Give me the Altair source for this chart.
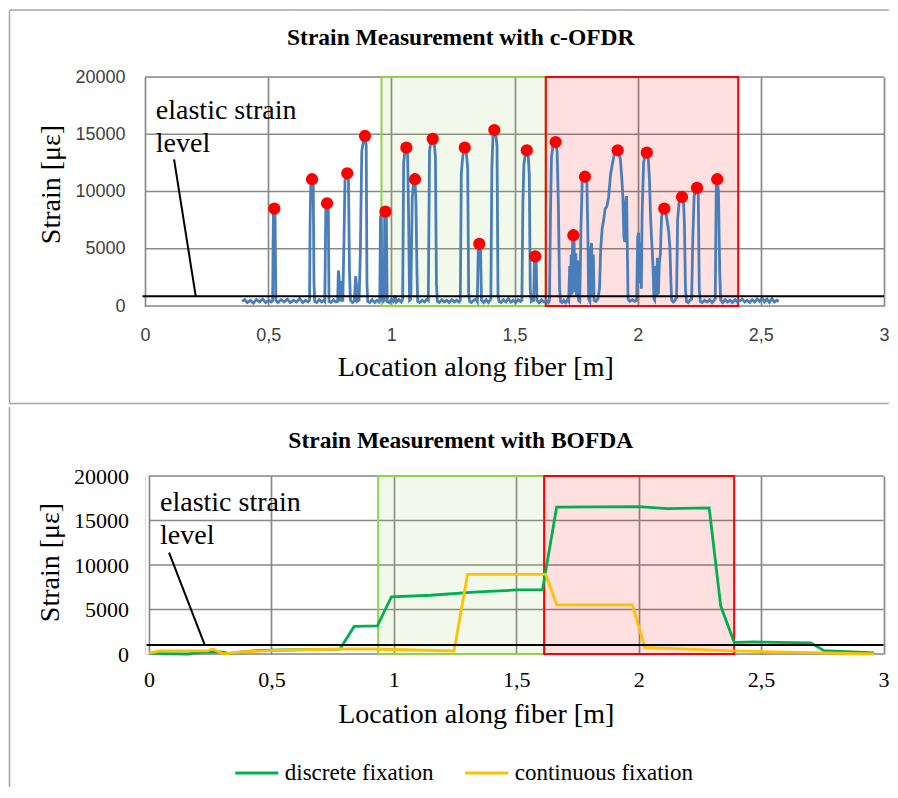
import altair as alt
import pandas as pd

# ---------------- data ----------------
x_ticks = [0, 0.5, 1, 1.5, 2, 2.5, 3]
y_ticks = [0, 5000, 10000, 15000, 20000]

ofdr_points = [
    (0.394, 400), (0.405, 550), (0.415, 300), (0.428, 500), (0.440, 250), (0.452, 550), (0.465, 350),
    (0.478, 600), (0.490, 300), (0.502, 500), (0.512, 350),
    (0.518, 450), (0.521, 8000), (0.525, 8500), (0.528, 8100), (0.531, 500),
    (0.540, 300), (0.552, 550), (0.565, 350), (0.578, 600), (0.590, 300), (0.603, 500), (0.615, 350),
    (0.628, 650), (0.640, 300), (0.652, 500), (0.662, 350),
    (0.668, 500), (0.670, 7000), (0.673, 10600), (0.678, 11070), (0.683, 10500), (0.686, 2000), (0.689, 400),
    (0.697, 300), (0.707, 550), (0.717, 350), (0.726, 500),
    (0.730, 400), (0.734, 8500), (0.739, 8970), (0.744, 8600), (0.747, 400),
    (0.755, 300), (0.765, 550), (0.775, 350),
    (0.782, 400), (0.785, 3100), (0.788, 2500), (0.791, 400), (0.795, 2200), (0.798, 500),
    (0.803, 500), (0.808, 6000), (0.812, 11000), (0.821, 11590), (0.826, 11000), (0.830, 3000), (0.834, 500),
    (0.842, 300), (0.850, 450), (0.855, 2600), (0.858, 2000), (0.861, 400),
    (0.869, 500), (0.874, 4500), (0.880, 13500), (0.887, 14500), (0.893, 14850), (0.898, 14000), (0.901, 2000), (0.904, 400),
    (0.912, 300), (0.922, 550), (0.932, 300), (0.942, 500), (0.950, 350),
    (0.953, 500), (0.956, 7800), (0.959, 7900), (0.962, 600), (0.967, 400), (0.971, 500), (0.973, 7800),
    (0.976, 8240), (0.980, 7500), (0.983, 400),
    (0.992, 300), (1.000, 550), (1.008, 400), (1.015, 900), (1.020, 350), (1.030, 550), (1.040, 350), (1.046, 600),
    (1.050, 12500), (1.055, 13500), (1.061, 13830), (1.066, 13300), (1.070, 8000), (1.074, 500), (1.079, 600),
    (1.085, 9500), (1.091, 11000), (1.096, 11070), (1.100, 9000), (1.104, 3000), (1.107, 400),
    (1.115, 300), (1.125, 500), (1.135, 350), (1.145, 600),
    (1.150, 500), (1.155, 13500), (1.161, 14400), (1.168, 14590), (1.174, 14300), (1.179, 13000), (1.183, 2000), (1.187, 400),
    (1.195, 300), (1.205, 550), (1.215, 350), (1.225, 500), (1.235, 300), (1.245, 550), (1.255, 350), (1.265, 500), (1.275, 350),
    (1.280, 500), (1.284, 11500), (1.288, 12600), (1.293, 13600), (1.298, 13830), (1.304, 13500), (1.310, 12000),
    (1.314, 1000), (1.318, 400),
    (1.325, 300), (1.335, 500), (1.344, 600),
    (1.349, 400), (1.353, 5000), (1.357, 5420), (1.362, 5000), (1.366, 500),
    (1.375, 300), (1.385, 550), (1.394, 300), (1.401, 500),
    (1.404, 600), (1.408, 12000), (1.413, 15000), (1.418, 15370), (1.424, 15000), (1.429, 14000), (1.433, 1000), (1.437, 400),
    (1.445, 300), (1.455, 550), (1.465, 350), (1.475, 650), (1.485, 350), (1.495, 500), (1.505, 300), (1.515, 550),
    (1.524, 400), (1.530, 500),
    (1.534, 9000), (1.538, 12300), (1.544, 13300), (1.550, 13600), (1.555, 13400), (1.560, 11500), (1.564, 1500), (1.568, 400),
    (1.574, 500), (1.578, 500), (1.581, 4000), (1.584, 4340), (1.588, 4000), (1.591, 500),
    (1.600, 300), (1.610, 550), (1.620, 350), (1.630, 500), (1.638, 300),
    (1.642, 500), (1.646, 8000), (1.650, 13000), (1.656, 14000), (1.662, 14320), (1.668, 14320), (1.673, 13500),
    (1.678, 9000), (1.683, 1500), (1.687, 400),
    (1.693, 300), (1.700, 500), (1.708, 300), (1.715, 550),
    (1.720, 400), (1.724, 3500), (1.727, 800), (1.730, 4500), (1.733, 1000), (1.736, 5800), (1.739, 6180),
    (1.742, 5500), (1.745, 1200), (1.749, 4600), (1.752, 800), (1.756, 4000), (1.760, 500),
    (1.765, 400), (1.770, 7000), (1.775, 11000), (1.781, 11290), (1.788, 11100), (1.794, 10700), (1.798, 6000), (1.801, 600),
    (1.806, 400), (1.810, 5000), (1.813, 5500), (1.816, 800), (1.820, 4500), (1.823, 500),
    (1.830, 400), (1.838, 600), (1.845, 1500), (1.850, 5000), (1.856, 6800), (1.862, 7500), (1.868, 8500),
    (1.875, 8700), (1.882, 9500), (1.890, 11500), (1.898, 12500), (1.906, 13300), (1.914, 13600), (1.922, 13600),
    (1.930, 12800), (1.936, 11000), (1.940, 9500), (1.944, 6000), (1.948, 5600), (1.951, 9000), (1.955, 9600),
    (1.958, 5000), (1.961, 600),
    (1.968, 400), (1.978, 550), (1.988, 400), (1.996, 500),
    (2.000, 6000), (2.004, 6400), (2.008, 2000), (2.012, 5500), (2.015, 1500),
    (2.018, 8000), (2.024, 12500), (2.030, 13200), (2.037, 13390), (2.043, 12900), (2.048, 11000), (2.052, 8000),
    (2.056, 6000), (2.060, 4500), (2.063, 3000), (2.066, 600),
    (2.069, 500), (2.073, 3500), (2.076, 800), (2.080, 4200), (2.084, 1000), (2.088, 3800), (2.092, 4500),
    (2.097, 7800), (2.102, 8300), (2.108, 8500), (2.114, 8200), (2.120, 7400), (2.126, 6500), (2.131, 5000),
    (2.135, 2000), (2.138, 500),
    (2.145, 350), (2.152, 500), (2.158, 800), (2.162, 7500), (2.168, 9000), (2.174, 9500), (2.180, 9520),
    (2.186, 9300), (2.190, 7000), (2.194, 1500), (2.198, 400),
    (2.205, 300), (2.212, 500), (2.219, 600), (2.224, 6000), (2.229, 9500), (2.235, 10200), (2.241, 10310),
    (2.246, 9800), (2.250, 1500), (2.254, 400),
    (2.262, 300), (2.272, 500), (2.282, 350), (2.292, 550), (2.302, 300), (2.310, 500), (2.315, 600),
    (2.319, 10500), (2.323, 11070), (2.328, 10000), (2.333, 3000), (2.337, 500),
    (2.345, 300), (2.355, 550), (2.365, 350), (2.375, 500), (2.385, 300), (2.395, 550), (2.405, 350), (2.415, 450),
    (2.425, 600), (2.435, 350), (2.445, 500), (2.455, 300), (2.465, 550), (2.475, 350), (2.485, 600), (2.495, 400),
    (2.505, 700), (2.515, 350), (2.525, 600), (2.535, 300), (2.545, 650), (2.555, 350), (2.565, 500), (2.573, 400),
]

peak_points = [
    (0.525, 8500), (0.678, 11070), (0.739, 8970), (0.821, 11590), (0.893, 14850), (0.976, 8240),
    (1.061, 13830), (1.096, 11070), (1.168, 14590), (1.298, 13830), (1.357, 5420), (1.418, 15370),
    (1.550, 13600), (1.584, 4340), (1.667, 14320), (1.739, 6180), (1.786, 11290), (1.919, 13600),
    (2.037, 13390), (2.108, 8500), (2.180, 9520), (2.241, 10310), (2.323, 11070),
]

discrete_points = [
    (0.0, 100), (0.05, 50), (0.16, 0), (0.20, 150), (0.25, 250), (0.30, 200), (0.33, 50), (0.37, 200),
    (0.45, 400), (0.55, 450), (0.65, 500), (0.78, 550), (0.838, 3100), (0.933, 3150), (0.990, 6420),
    (1.151, 6600), (1.328, 6950), (1.505, 7200), (1.607, 7200), (1.665, 16500), (2.002, 16560),
    (2.118, 16330), (2.288, 16420), (2.335, 5410), (2.390, 1310), (2.471, 1350), (2.703, 1250),
    (2.757, 380), (2.962, 110),
]

continuous_points = [
    (0.0, 110), (0.048, 340), (0.238, 340), (0.259, 560), (0.306, 0), (0.375, 230), (0.511, 400),
    (0.783, 560), (0.918, 560), (1.246, 340), (1.301, 8950), (1.620, 8950), (1.665, 5530), (1.975, 5530),
    (2.025, 750), (2.226, 520), (2.390, 340), (2.608, 220), (2.962, 0),
]

series_names = ["discrete fixation", "continuous fixation"]
series_colors = ["#00b050", "#ffc000"]

top_boxes = [(0.960, 1.627, "#92d050", "#92d050"), (1.627, 2.408, "#ff0000", "#ff0000")]
bottom_boxes = [(0.936, 1.614, "#92d050", "#92d050"), (1.614, 2.390, "#ff0000", "#ff0000")]

top_elastic = 850
bottom_elastic = 1000
top_pointer = (0.118, 12810, 0.206, 850)
bottom_pointer = (0.082, 11390, 0.228, 1000)
top_label = [(0.044, 16300, "elastic strain"), (0.044, 13480, "level")]
bottom_label = [(0.045, 16050, "elastic strain"), (0.045, 12310, "level")]

titles = ["Strain Measurement with c-OFDR", "Strain Measurement with BOFDA"]

# ---------------- styling ----------------
SERIF = "Liberation Serif"
SANS = "Liberation Sans"
GRID = "#898989"
FRAME = "#a6a6a6"

yscale = alt.Scale(domain=[0, 20000], nice=False)
X_EXPR = "replace(toString(datum.value), '.', ',')"


def frame_rule(x, x2, y, y2):
    return alt.Chart(pd.DataFrame({"a": [0]})).mark_rule(color=FRAME, strokeWidth=1.5).encode(
        x=alt.value(x), x2=alt.value(x2), y=alt.value(y), y2=alt.value(y2))


def panel(title_text, title_x, title_y, width, height, xscale, line_layers, boxes, elastic, pointer,
          labels, label_font, label_size, label_color, y_label_pad, ytitle_x, ytitle_y, xtitle_x, xtitle_y,
          x_label_pad, frame_rules):
    box_df = pd.DataFrame(boxes, columns=["x0", "x1", "fill", "stroke"])
    box_df["y0"] = 0
    box_df["y1"] = 20000
    box = alt.Chart(box_df).mark_rect(fillOpacity=0.12, strokeWidth=2, strokeOpacity=1).encode(
        x=alt.X("x0:Q", scale=xscale),
        x2="x1:Q",
        y=alt.Y("y0:Q", scale=yscale),
        y2="y1:Q",
        fill=alt.Fill("fill:N", scale=None),
        stroke=alt.Stroke("stroke:N", scale=None),
    )

    axis_df = pd.DataFrame({"x": [0, 3], "y": [0, 20000]})
    axes = alt.Chart(axis_df).mark_point(opacity=0).encode(
        x=alt.X("x:Q", scale=xscale, title="Location along fiber [m]",
                axis=alt.Axis(values=x_ticks, labelExpr=X_EXPR, grid=True, gridColor=GRID, gridWidth=1.7,
                              domain=False, ticks=False, tickSize=0, labelFont=label_font,
                              labelFontSize=label_size, labelColor=label_color, labelPadding=x_label_pad,
                              labelBaseline="middle", labelFlush=False,
                              titleFont=SERIF, titleFontSize=28, titleFontWeight="normal", titleColor="black",
                              titleX=xtitle_x, titleY=xtitle_y, titleBaseline="alphabetic", titleAlign="center")),
        y=alt.Y("y:Q", scale=yscale, title="Strain [με]",
                axis=alt.Axis(values=y_ticks, format="d", grid=False,
                              domain=False, ticks=False, tickSize=0, labelFont=label_font,
                              labelFontSize=label_size, labelColor=label_color, labelPadding=y_label_pad,
                              labelFlush=False,
                              titleFont=SERIF, titleFontSize=28, titleFontWeight="normal", titleColor="black",
                              titleX=ytitle_x, titleY=ytitle_y, titleBaseline="alphabetic", titleAlign="center",
                              titleAngle=270)),
    )

    # horizontal grid lines spanning the x domain only
    hg_df = pd.DataFrame({"y": y_ticks, "x": [0] * len(y_ticks), "x2": [3] * len(y_ticks)})
    hgrid = alt.Chart(hg_df).mark_rule(color=GRID, strokeWidth=1.7).encode(
        x=alt.X("x:Q", scale=xscale), x2="x2:Q", y=alt.Y("y:Q", scale=yscale))

    el_df = pd.DataFrame({"x": [-0.01], "x2": [3.0], "y": [elastic]})
    el = alt.Chart(el_df).mark_rule(color="black", strokeWidth=2).encode(
        x=alt.X("x:Q", scale=xscale), x2="x2:Q", y=alt.Y("y:Q", scale=yscale))

    p_df = pd.DataFrame([pointer], columns=["x", "y", "x2", "y2"])
    pt = alt.Chart(p_df).mark_rule(color="black", strokeWidth=2).encode(
        x=alt.X("x:Q", scale=xscale), y=alt.Y("y:Q", scale=yscale), x2="x2:Q", y2="y2:Q")

    t_df = pd.DataFrame(labels, columns=["x", "y", "t"])
    tx = alt.Chart(t_df).mark_text(font=SERIF, fontSize=28, align="left", baseline="alphabetic",
                                   color="black").encode(
        x=alt.X("x:Q", scale=xscale), y=alt.Y("y:Q", scale=yscale), text="t:N")

    ttl = alt.Chart(pd.DataFrame({"t": [title_text]})).mark_text(
        font=SERIF, fontSize=23.5, fontWeight="bold", align="center", baseline="alphabetic", color="black"
    ).encode(x=alt.value(title_x), y=alt.value(title_y), text="t:N")

    layers = [axes, hgrid, box] + line_layers + [el, pt, tx, ttl] + frame_rules
    return alt.layer(*layers).properties(width=width, height=height)


# ---------------- top panel ----------------
top_xscale = alt.Scale(domain=[0, 3], nice=False, zero=False)
ofdr_df = pd.DataFrame(ofdr_points, columns=["x", "y"])
peak_df = pd.DataFrame(peak_points, columns=["x", "y"])

blue = alt.Chart(ofdr_df).mark_line(color="#4a7ebb", strokeWidth=2.8).encode(
    x=alt.X("x:Q", scale=top_xscale), y=alt.Y("y:Q", scale=yscale))
dots = alt.Chart(peak_df).mark_circle(color="#ff0000", opacity=1, size=150).encode(
    x=alt.X("x:Q", scale=top_xscale), y=alt.Y("y:Q", scale=yscale))

top_frames = [
    frame_rule(-135.5, 743.75, -67, -67),
    frame_rule(-135.5, -135.5, -67, 326.5),
    frame_rule(-135.5, 743.75, 326.5, 326.5),
]

top = panel(titles[0], 315.75, -32, 739, 229, top_xscale, [blue, dots], top_boxes, top_elastic,
            top_pointer, top_label, SANS, 18, "#404040", 20, -86, 107, 330.25, 69, 29, top_frames)

# ---------------- bottom panel ----------------
bottom_xscale = alt.Scale(domain=[0, 3], nice=False, zero=False, range=[4, 738.5])
rows = [(x, y, series_names[0]) for x, y in discrete_points] + \
       [(x, y, series_names[1]) for x, y in continuous_points]
bof_df = pd.DataFrame(rows, columns=["x", "y", "series"])

lines = alt.Chart(bof_df).mark_line(strokeWidth=2.8).encode(
    x=alt.X("x:Q", scale=bottom_xscale), y=alt.Y("y:Q", scale=yscale),
    color=alt.Color("series:N", sort=series_names,
                    scale=alt.Scale(domain=series_names, range=series_colors),
                    legend=alt.Legend(title=None, orient="none", legendX=88.75, legendY=274,
                                      direction="horizontal", symbolType="stroke", symbolSize=1849,
                                      symbolStrokeWidth=3, labelFont=SERIF, labelFontSize=23,
                                      labelColor="black", labelOffset=5, columnPadding=25,
                                      labelLimit=400)),
)

bottom_frames = [
    frame_rule(-135.5, -135.5, -69, 311),
]

bottom = panel(titles[1], 315.75, -27.75, 739, 178, bottom_xscale, [lines], bottom_boxes, bottom_elastic,
               bottom_pointer, bottom_label, SERIF, 22, "black", 16.5, -86.25, 86, 330.75, 68, 25,
               bottom_frames)

chart = alt.vconcat(top, bottom, spacing=0).resolve_scale(color="independent", x="independent").properties(
    padding=0).configure_view(stroke=None).configure(background="white")

chart.save("out.html", embed_options={"renderer": "svg", "actions": False})
